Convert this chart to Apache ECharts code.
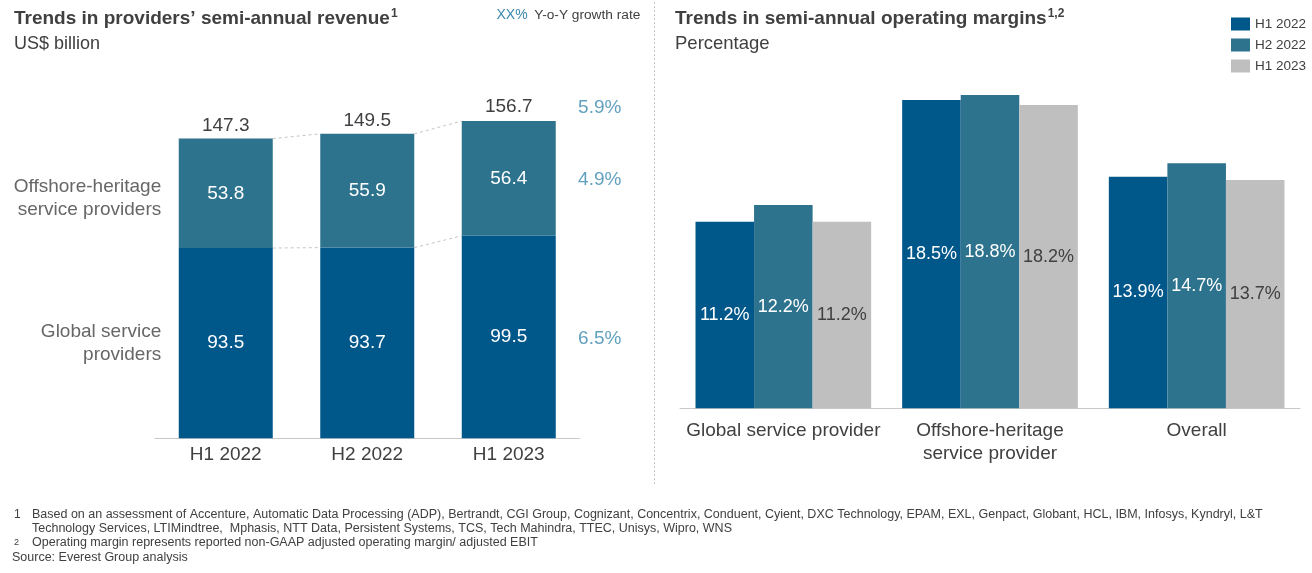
<!DOCTYPE html>
<html>
<head>
<meta charset="utf-8">
<script src="https://cdn.jsdelivr.net/npm/echarts@6/dist/echarts.min.js"></script>
<style>
  html, body { margin: 0; padding: 0; background: #fff; }
  #chart { width: 1312px; height: 573px; }
</style>
</head>
<body>
<div id="chart"></div>
<script>
// left panel: semi-annual revenue, US$ billion
var periods = ['H1 2022', 'H2 2022', 'H1 2023'];
var globalRev = [93.5, 93.7, 99.5];
var offshoreRev = [53.8, 55.9, 56.4];
var totalRev = [147.3, 149.5, 156.7];
var rowNames = ['Global service\nproviders', 'Offshore-heritage\nservice providers'];
// y-o-y growth, order: global, offshore, total
var growth = [6.5, 4.9, 5.9];

// right panel: operating margins, %
var marginCats = ['Global service provider', 'Offshore-heritage\nservice provider', 'Overall'];
var marginH122 = [11.2, 18.5, 13.9];
var marginH222 = [12.2, 18.8, 14.7];
var marginH123 = [11.2, 18.2, 13.7];

var FONT = 'Liberation Sans, Arial, sans-serif';
var TXT = '#404040';
var DARK = '#00578A';
var TEAL = '#2E738E';
var GREY = '#BFBFBF';
var GROWTH = '#3A88AE';
var BAR_W = 94;

var stackTop = globalRev.map(function (v, i) { return +(v + offshoreRev[i]).toFixed(1); });

var chart = echarts.init(document.getElementById('chart'));

// dashed connectors between neighbouring bars (segment tops)
function renderLinks(params, api) {
  var i = api.value(0);
  var half = BAR_W / 2;
  var kids = [globalRev, stackTop].map(function (arr) {
    var a = api.coord([i - 1, arr[i - 1]]);
    var b = api.coord([i, arr[i]]);
    return {
      type: 'line',
      shape: { x1: a[0] + half, y1: a[1], x2: b[0] - half, y2: b[1] },
      style: { stroke: '#C4C4C4', lineWidth: 1, lineDash: [3, 3] }
    };
  });
  return { type: 'group', children: kids };
}

var option = {
  animation: false,
  textStyle: { fontFamily: FONT },
  grid: [
    { left: 155, width: 424.5, top: 112.7, bottom: 134.7, outerBoundsMode: 'none' },
    { left: 680, width: 620, top: 75, bottom: 164.7, outerBoundsMode: 'none' }
  ],
  xAxis: [
    {
      type: 'category', gridIndex: 0, data: periods,
      axisTick: { show: false },
      axisLine: { lineStyle: { color: '#C8C8C8' } },
      axisLabel: { color: TXT, fontSize: 19, margin: 7, fontFamily: FONT }
    },
    {
      type: 'category', gridIndex: 1, data: marginCats,
      axisTick: { show: false },
      axisLine: { lineStyle: { color: '#C8C8C8' } },
      axisLabel: { color: TXT, fontSize: 19, lineHeight: 23.3, margin: 11, fontFamily: FONT, interval: 0 }
    }
  ],
  yAxis: [
    { type: 'value', gridIndex: 0, min: 0, max: 160, show: false },
    { type: 'value', gridIndex: 1, min: 0, max: 20, show: false }
  ],
  legend: {
    data: ['H1 2022', 'H2 2022', 'H1 2023'],
    orient: 'vertical',
    left: 1226, top: 12,
    icon: 'rect',
    itemWidth: 19, itemHeight: 13, itemGap: 7,
    textStyle: { fontSize: 13.5, color: TXT, lineHeight: 14, fontFamily: FONT },
    selectedMode: false
  },
  series: [
    {
      name: 'Global service providers', type: 'bar', stack: 'rev',
      xAxisIndex: 0, yAxisIndex: 0, barWidth: BAR_W,
      data: globalRev,
      itemStyle: { color: DARK },
      label: { show: true, position: 'inside', color: '#fff', fontSize: 19 }
    },
    {
      name: 'Offshore-heritage service providers', type: 'bar', stack: 'rev',
      xAxisIndex: 0, yAxisIndex: 0, barWidth: BAR_W,
      data: offshoreRev,
      itemStyle: { color: TEAL },
      label: { show: true, position: 'inside', color: '#fff', fontSize: 19 }
    },
    {
      name: 'Total', type: 'line', xAxisIndex: 0, yAxisIndex: 0,
      data: totalRev, symbol: 'circle', symbolSize: 1, silent: true,
      itemStyle: { color: 'rgba(0,0,0,0)' },
      lineStyle: { width: 0, opacity: 0 },
      label: { show: true, position: 'top', distance: 3, color: TXT, fontSize: 19 },
      z: 5
    },
    {
      name: 'Links', type: 'custom', xAxisIndex: 0, yAxisIndex: 0,
      renderItem: renderLinks, silent: true,
      encode: { x: 0, y: 1 },
      data: [[1, 0], [2, 0]]
    },
    {
      name: 'Rows', type: 'scatter', xAxisIndex: 0, yAxisIndex: 0,
      symbolSize: 1, silent: true,
      itemStyle: { color: 'rgba(0,0,0,0)' },
      data: [
        { value: [0, globalRev[0] / 2] },
        { value: [0, globalRev[0] + offshoreRev[0] / 2], label: { offset: [0, 5] } }
      ],
      label: {
        show: true, position: 'left', distance: 64,
        color: TXT, fontSize: 19, lineHeight: 23.5,
        formatter: function (p) { return rowNames[p.dataIndex]; }
      }
    },
    {
      name: 'Growth', type: 'scatter', xAxisIndex: 0, yAxisIndex: 0,
      symbolSize: 1, silent: true,
      itemStyle: { color: 'rgba(0,0,0,0)' },
      data: [
        { value: [2, globalRev[2] / 2], label: { offset: [91, 2] } },
        { value: [2, globalRev[2] + offshoreRev[2] / 2], label: { offset: [91, 1] } },
        { value: [2, totalRev[2]], label: { offset: [91, -12] } }
      ],
      label: {
        show: true, position: 'inside',
        color: GROWTH, fontSize: 19,
        formatter: function (p) { return growth[p.dataIndex].toFixed(1) + '%'; }
      }
    },
    {
      name: 'H1 2022', type: 'bar', xAxisIndex: 1, yAxisIndex: 1,
      barGap: '0%', barCategoryGap: '15%',
      data: marginH122, itemStyle: { color: DARK },
      label: { show: true, position: 'inside', color: '#fff', fontSize: 18, formatter: '{c}%' }
    },
    {
      name: 'H2 2022', type: 'bar', xAxisIndex: 1, yAxisIndex: 1,
      barGap: '0%', barCategoryGap: '15%',
      data: marginH222, itemStyle: { color: TEAL },
      label: { show: true, position: 'inside', color: '#fff', fontSize: 18, formatter: '{c}%' }
    },
    {
      name: 'H1 2023', type: 'bar', xAxisIndex: 1, yAxisIndex: 1,
      barGap: '0%', barCategoryGap: '15%',
      data: marginH123, itemStyle: { color: GREY },
      label: { show: true, position: 'inside', color: TXT, fontSize: 18, formatter: '{c}%' }
    }
  ],
  graphic: [
    {
      type: 'line', silent: true,
      shape: { x1: 654.5, y1: 2, x2: 654.5, y2: 486 },
      style: { stroke: '#C8C8C8', lineWidth: 1, lineDash: [2, 2] }
    },
    {
      type: 'text', x: 14, y: 19, silent: true,
      style: {
        text: '{t|Trends in providers\u2019 semi-annual revenue}{s|1}',
        verticalAlign: 'middle',
        rich: {
          t: { fontSize: 19, fontWeight: 'bold', fill: TXT, fontFamily: FONT, lineHeight: 22 },
          s: { fontSize: 12, fontWeight: 'bold', fill: TXT, fontFamily: FONT, verticalAlign: 'top', lineHeight: 22, padding: [0, 0, 0, 1] }
        }
      }
    },
    {
      type: 'text', x: 14, y: 44, silent: true,
      style: { text: 'US$ billion', fontSize: 18, fill: TXT, fontFamily: FONT, verticalAlign: 'middle' }
    },
    {
      type: 'text', x: 496.5, y: 15, silent: true,
      style: {
        text: '{a|XX%}  {b|Y-o-Y growth rate}',
        verticalAlign: 'middle',
        rich: {
          a: { fontSize: 14, fill: GROWTH, fontFamily: FONT },
          b: { fontSize: 13.7, fill: TXT, fontFamily: FONT }
        }
      }
    },
    {
      type: 'text', x: 675, y: 19, silent: true,
      style: {
        text: '{t|Trends in semi-annual operating margins}{s|1,2}',
        verticalAlign: 'middle',
        rich: {
          t: { fontSize: 19, fontWeight: 'bold', fill: TXT, fontFamily: FONT, lineHeight: 22 },
          s: { fontSize: 12, fontWeight: 'bold', fill: TXT, fontFamily: FONT, verticalAlign: 'top', lineHeight: 22, padding: [0, 0, 0, 1] }
        }
      }
    },
    {
      type: 'text', x: 675, y: 44, silent: true,
      style: { text: 'Percentage', fontSize: 18.5, fill: TXT, fontFamily: FONT, verticalAlign: 'middle' }
    },
    {
      type: 'text', x: 14, y: 515, silent: true,
      style: { text: '1', fontSize: 12, fill: TXT, fontFamily: FONT, verticalAlign: 'middle' }
    },
    {
      type: 'text', x: 32, y: 508, silent: true,
      style: {
        text: 'Based on an assessment of Accenture, Automatic Data Processing (ADP), Bertrandt, CGI Group, Cognizant, Concentrix, Conduent, Cyient, DXC Technology, EPAM, EXL, Genpact, Globant, HCL, IBM, Infosys, Kyndryl, L&T\nTechnology Services, LTIMindtree,  Mphasis, NTT Data, Persistent Systems, TCS, Tech Mahindra, TTEC, Unisys, Wipro, WNS',
        fontSize: 12.5, lineHeight: 13.5, fill: TXT, fontFamily: FONT, verticalAlign: 'top'
      }
    },
    {
      type: 'text', x: 14, y: 543, silent: true,
      style: { text: '2', fontSize: 9, fill: TXT, fontFamily: FONT, verticalAlign: 'middle' }
    },
    {
      type: 'text', x: 32, y: 543, silent: true,
      style: { text: 'Operating margin represents reported non-GAAP adjusted operating margin/ adjusted EBIT', fontSize: 12.5, fill: TXT, fontFamily: FONT, verticalAlign: 'middle' }
    },
    {
      type: 'text', x: 12, y: 558, silent: true,
      style: { text: 'Source: Everest Group analysis', fontSize: 12.5, fill: TXT, fontFamily: FONT, verticalAlign: 'middle' }
    }
  ]
};

chart.setOption(option);
</script>
</body>
</html>
